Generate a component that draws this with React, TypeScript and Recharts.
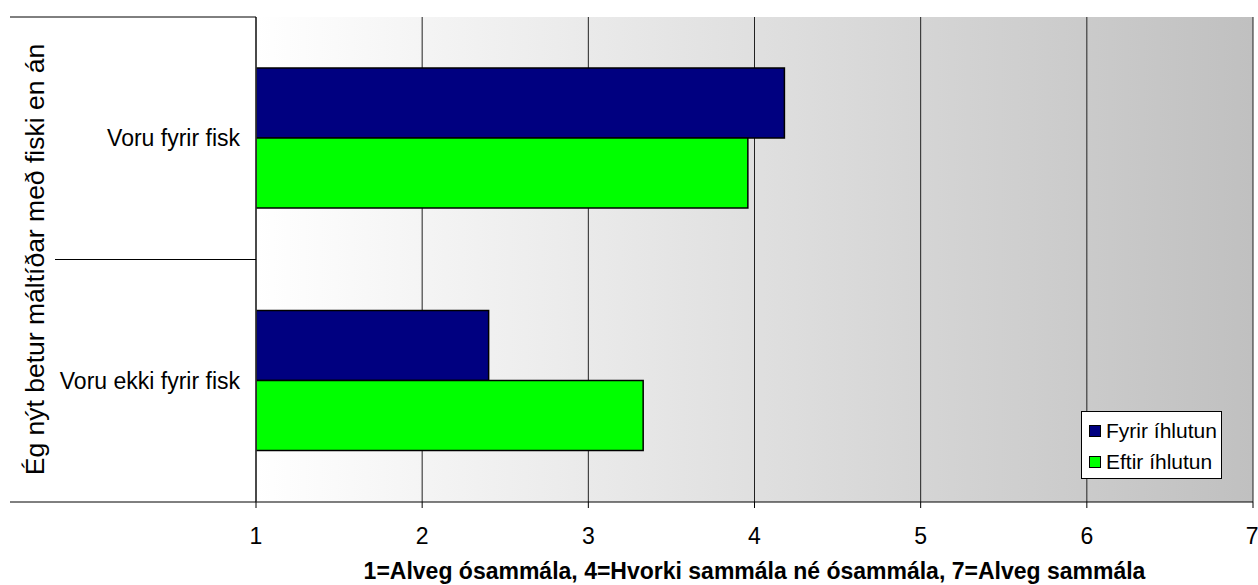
import { Bar, BarChart, CartesianGrid, XAxis, YAxis } from "recharts";

const categories = ["Voru fyrir fisk", "Voru ekki fyrir fisk"];
const fyrirIhlutun = [4.18, 2.4];
const eftirIhlutun = [3.96, 3.33];
const xTicks = [1, 2, 3, 4, 5, 6, 7];

const seriesNames = ["Fyrir íhlutun", "Eftir íhlutun"];
const seriesColors = ["#000080", "#00ff00"];

const yTitle = "Ég nýt betur máltíðar með fiski en án";
const xTitle = "1=Alveg ósammála, 4=Hvorki sammála né ósammála, 7=Alveg sammála";

const FONT = '"Liberation Sans", Arial, sans-serif';
const AXIS_W = 256;

const data = categories.map((name, i) => ({
  name,
  fyrir: fyrirIhlutun[i],
  eftir: eftirIhlutun[i]
}));

function CategoryTick(props: any) {
  const { y, payload, index, visibleTicksCount } = props;
  const half = payload.offset ?? 0;
  const top = y - half;
  const bottom = y + half;
  const last = index === visibleTicksCount - 1;
  return (
    <g>
      <line x1={index === 0 ? 10 : 55} x2={AXIS_W} y1={top} y2={top} stroke="#000" strokeWidth={1} />
      {last && <line x1={10} x2={AXIS_W} y1={bottom} y2={bottom} stroke="#000" strokeWidth={1} />}
      <text x={AXIS_W - 16} y={y} textAnchor="end" dominantBaseline="central" fontSize={23} fontFamily={FONT} fill="#000">
        {payload.value}
      </text>
    </g>
  );
}

function LegendBox() {
  return (
    <div
      style={{
        position: "absolute",
        left: 1081,
        top: 411,
        border: "1px solid #000",
        background: "#fff",
        width: 141,
        height: 68,
        boxSizing: "border-box",
        fontFamily: FONT,
        fontSize: 21,
        padding: "3px 0 0 7px"
      }}
    >
      {seriesNames.map((n, i) => (
        <div key={n} style={{ display: "flex", alignItems: "center", height: 31, lineHeight: "31px" }}>
          <span
            style={{
              display: "inline-block",
              width: 10,
              height: 10,
              background: seriesColors[i],
              border: "1px solid #000",
              marginRight: 5
            }}
          />
          <span>{n}</span>
        </div>
      ))}
    </div>
  );
}

export default function App() {
  return (
    <div style={{ position: "absolute", left: 0, top: 0, width: 1258, height: 585, background: "#fff" }}>
      <BarChart
        width={1258}
        height={585}
        data={data}
        layout="vertical"
        margin={{ top: 17, right: 5, bottom: 0, left: 0 }}
        barCategoryGap="21%"
        barGap={0}
      >
        <defs>
          <linearGradient id="plotBg" x1="0" y1="0" x2="1" y2="0">
            <stop offset="0%" stopColor="#ffffff" />
            <stop offset="100%" stopColor="#c0c0c0" />
          </linearGradient>
        </defs>
        <CartesianGrid horizontal={false} stroke="#222" fill="url(#plotBg)" fillOpacity={1} />
        <XAxis
          type="number"
          domain={[1, 7]}
          ticks={xTicks}
          allowDataOverflow
          height={83}
          axisLine={{ stroke: "#000" }}
          tickLine={{ stroke: "#000" }}
          tickSize={6}
          tickMargin={20}
          tick={{ fontSize: 23, fontFamily: FONT, fill: "#000" }}
          label={(p: any) => {
            const vb = p.viewBox;
            return (
              <text
                x={vb.x + vb.width / 2}
                y={579}
                textAnchor="middle"
                fontSize={23}
                fontWeight="bold"
                fontFamily={FONT}
                fill="#000"
              >
                {xTitle}
              </text>
            );
          }}
        />
        <XAxis
          xAxisId="top"
          orientation="top"
          type="number"
          domain={[1, 7]}
          height={0}
          tick={false}
          tickLine={false}
          axisLine={{ stroke: "#888", strokeWidth: 2 }}
        />
        <YAxis
          type="category"
          dataKey="name"
          width={AXIS_W}
          axisLine={{ stroke: "#333", strokeWidth: 1.5 }}
          tickLine={false}
          tick={<CategoryTick />}
          label={(p: any) => {
            const vb = p.viewBox;
            const cy = vb.y + vb.height / 2;
            return (
              <text
                x={35}
                y={cy}
                transform={`rotate(-90, 35, ${cy})`}
                textAnchor="middle"
                dominantBaseline="central"
                fontSize={26.5}
                fontFamily={FONT}
                fill="#000"
              >
                {yTitle}
              </text>
            );
          }}
        />
        <Bar dataKey="fyrir" name={seriesNames[0]} fill={seriesColors[0]} stroke="#000" strokeWidth={1.5} isAnimationActive={false} />
        <Bar dataKey="eftir" name={seriesNames[1]} fill={seriesColors[1]} stroke="#000" strokeWidth={1.5} isAnimationActive={false} />
      </BarChart>
      <LegendBox />
    </div>
  );
}
